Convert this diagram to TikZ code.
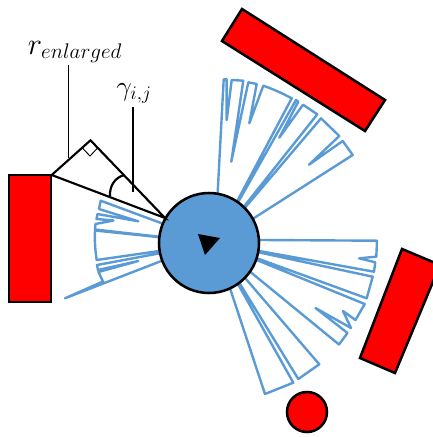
\documentclass[tikz,border=0pt]{standalone}
\usepackage{amsmath}
\usetikzlibrary{positioning, calc}
\definecolor{scanblue}{HTML}{5B9BD5}
\definecolor{obstred}{HTML}{FF0000}
\tikzset{
  obstacle/.style={draw=black, fill=obstred, line width=1.9pt, line join=miter},
  robotbody/.style={circle, draw=black, fill=scanblue, line width=1.9pt, minimum size=75pt, inner sep=0pt},
  obstball/.style={circle, draw=black, fill=obstred, line width=1.9pt, minimum size=30pt, inner sep=0pt},
  scanline/.style={draw=scanblue, line width=1.8pt, line join=round},
  wedge/.style={draw=black, line width=1.6pt, line join=miter},
  leader/.style={draw=black, line width=1.1pt},
  mathlabel/.style={inner sep=0pt, font=\huge},
}

\begin{document}
\begin{tikzpicture}[x=0.75pt, y=-0.75pt]
  \clip (0,0) rectangle (433,437);
  \coordinate (sc) at (215,243);

  % lidar scan
  \draw[scanline] (sc) -- (223.7,79.3) -- (226.7,79.3) -- (226.7,120) -- (231.7,80) -- (243.3,80.7)
    -- (231.3,161.7) -- (248.3,82.3) -- (256.7,84) -- (249.3,123.3) -- (263.3,85.7)
    to[bend left=4] (291.7,98.3) -- (sc) -- (296,100) -- (298.3,101.7) -- (279.3,137.7)
    -- (303,104.7) -- (317.3,114.3) -- (sc) -- (321,118.3) -- (339.3,136) -- (309,164.7)
    -- (342.7,141) -- (352.7,155) -- (sc)
    -- (262,240) -- (377,240.7) -- (376.3,256.7) -- (359,258.3) -- (375.3,262.3) -- (374,271.7)
    -- (sc) -- (372.7,276.7) -- (366.7,298.3) -- (sc) -- (364.7,304) -- (355.5,320) -- (343,311)
    -- (351,328) -- (315.5,308) -- (347.5,333) -- (339,344.5) -- (sc)
    -- (319.3,364.3) -- (298.3,379) -- (sc) -- (293.3,382.7) -- (265,394) -- (sc)
    -- (160,261.5) -- (65,298.3) -- (103,281.5) -- (98.5,272) -- (138.3,261) -- (98,270) -- (97,265)
    -- (sc) -- (96.7,260) to[bend left=5] (95,230.5) -- (sc) -- (95,229.5) -- (95.5,224)
    -- (113.5,220.5) -- (96.5,219) -- (97.5,214) -- (138.3,221.3) -- (99,209) -- (100.7,200.7) -- (sc);

  % obstacles
  \draw[obstacle] (9,175) rectangle (51,302);
  \draw[obstacle] (242,9) -- (385,100) -- (365,131) -- (222,41) -- cycle;
  \draw[obstacle] (402,249) -- (440,265) -- (395,373) -- (360,358) -- cycle;
  \node[obstball] (ball) at (307,412) {};

  % robot
  \node[robotbody] (robot) at (209,243) {};
  \fill[black] (198,234) -- (220,238) -- (205,255) -- cycle;

  % enlarged radius wedge
  \draw[wedge] (51.7,175) -- (90.5,140.3) -- (165,218) -- cycle;
  \draw[line width=0.7pt] (82.7,148.3) -- (90,156) -- (97.3,148.3);
  \draw[wedge] (110,196) .. controls (109.5,187) and (114,178) .. (124,175);

  % labels
  \coordinate (renltip) at (68.5,158);
  \coordinate (gammatip) at (133,192);
  \node[mathlabel, scale=1.1, transform shape] (renl) at (75,52) {$r_{enlarged}$};
  \node[mathlabel] (gamma) at (134,93) {$\gamma_{i,j}$};
  \draw[leader] (renl.south -| renltip) ++(0,2) -- (renltip);
  \draw[leader] (gamma.south -| gammatip) ++(0,4) -- (gammatip);
\end{tikzpicture}
\end{document}
